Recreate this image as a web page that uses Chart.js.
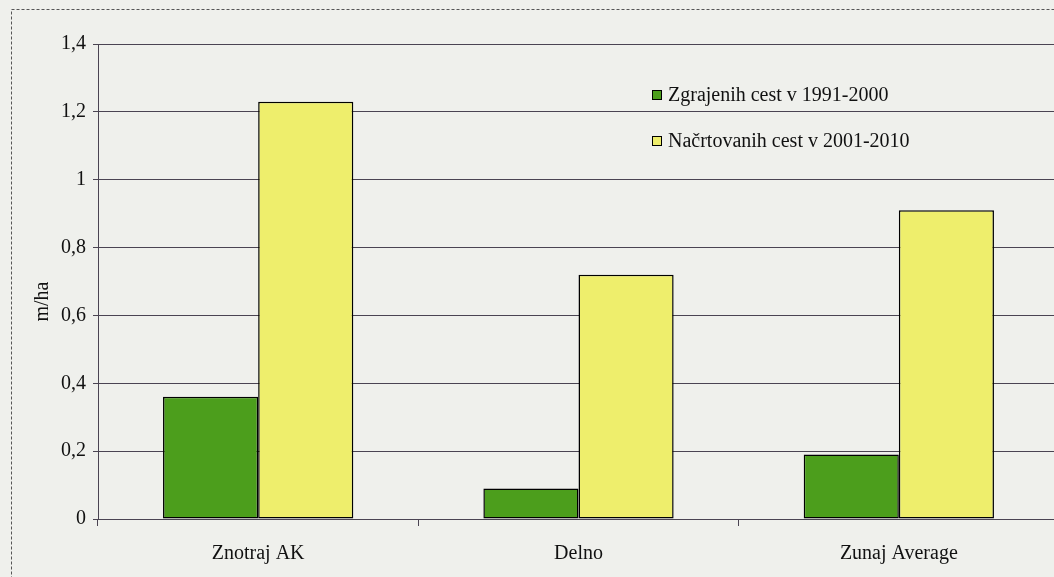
<!DOCTYPE html>
<html><head><meta charset="utf-8">
<script src="https://cdn.jsdelivr.net/npm/chart.js@4/dist/chart.umd.min.js"></script>
<style>
html,body{margin:0;padding:0;overflow:hidden;background:#eff0ec;}
#wrap{width:1054px;height:577px;overflow:hidden;position:relative;}
canvas{display:block;}
</style>
</head><body><div id="wrap"><canvas id="c" width="1070" height="577"></canvas></div>
<script>
const categories = ['Znotraj AK', 'Delno', 'Zunaj Average'];
const builtRoads = [0.36, 0.09, 0.19];
const plannedRoads = [1.23, 0.72, 0.91];
const seriesNames = ['Zgrajenih cest v 1991-2000', 'Načrtovanih cest v 2001-2010'];
const yAxisTitle = 'm/ha';
const yMin = 0, yMax = 1.4, yStep = 0.2;

const FONT = "'Liberation Serif', 'Times New Roman', serif";
const GRID = '#4a4452';
const FS = 20;

const framePlugin = {
  id: 'frame',
  beforeDraw(chart) {
    const ctx = chart.ctx;
    ctx.save();
    ctx.fillStyle = '#eff0ec';
    ctx.fillRect(0, 0, chart.width, chart.height);
    ctx.strokeStyle = '#555555';
    ctx.lineWidth = 1;
    ctx.setLineDash([3, 2]);
    ctx.strokeRect(11.5, 9.5, 3000, 3000);
    ctx.restore();
  }
};

const legendPlugin = {
  id: 'customLegend',
  afterDraw(chart) {
    const ctx = chart.ctx;
    ctx.save();
    ctx.font = FS + 'px ' + FONT;
    ctx.textBaseline = 'middle';
    ctx.textAlign = 'left';
    chart.data.datasets.forEach((ds, i) => {
      const cy = 95 + i * 46;
      ctx.fillStyle = ds.backgroundColor;
      ctx.fillRect(652, cy - 5, 10, 10);
      ctx.strokeStyle = '#000';
      ctx.lineWidth = 1;
      ctx.strokeRect(652.5, cy - 4.5, 9, 9);
      ctx.fillStyle = '#111';
      ctx.fillText(ds.label, 668, cy + 1);
    });
    ctx.restore();
  }
};

new Chart(document.getElementById('c'), {
  type: 'bar',
  data: {
    labels: categories,
    datasets: [
      { label: seriesNames[0], data: builtRoads, backgroundColor: '#4c9e1c', borderColor: '#000', borderWidth: 1.5, borderSkipped: false },
      { label: seriesNames[1], data: plannedRoads, backgroundColor: '#eeee6c', borderColor: '#000', borderWidth: 1.5, borderSkipped: false }
    ]
  },
  options: {
    responsive: false,
    animation: false,
    devicePixelRatio: 1,
    layout: { padding: { top: 44, left: 0, right: 11, bottom: 0 } },
    plugins: { legend: { display: false }, tooltip: { enabled: false } },
    datasets: { bar: { categoryPercentage: 0.594, barPercentage: 1.0 } },
    scales: {
      x: {
        offset: true,
        grid: { display: true, drawOnChartArea: false, drawTicks: true, tickLength: 7, color: GRID },
        border: { display: true, color: GRID, width: 1 },
        ticks: { color: '#111', font: { family: FONT, size: FS }, padding: 16 },
        afterFit(s) { s.height = 58; }
      },
      y: {
        min: yMin, max: yMax,
        ticks: {
          stepSize: yStep, color: '#111', font: { family: FONT, size: FS }, padding: 7,
          callback: v => String(Math.round(v * 10) / 10).replace('.', ',')
        },
        grid: { color: GRID, tickLength: 5, lineWidth: 1 },
        border: { display: true, color: GRID, width: 1 },
        title: { display: true, text: yAxisTitle + '\u00a0'.repeat(8), color: '#111', font: { family: FONT, size: FS }, padding: { top: 31, bottom: 0 } },
        afterFit(s) { s.width = 98; }
      }
    }
  },
  plugins: [framePlugin, legendPlugin]
});
</script>
</body></html>
